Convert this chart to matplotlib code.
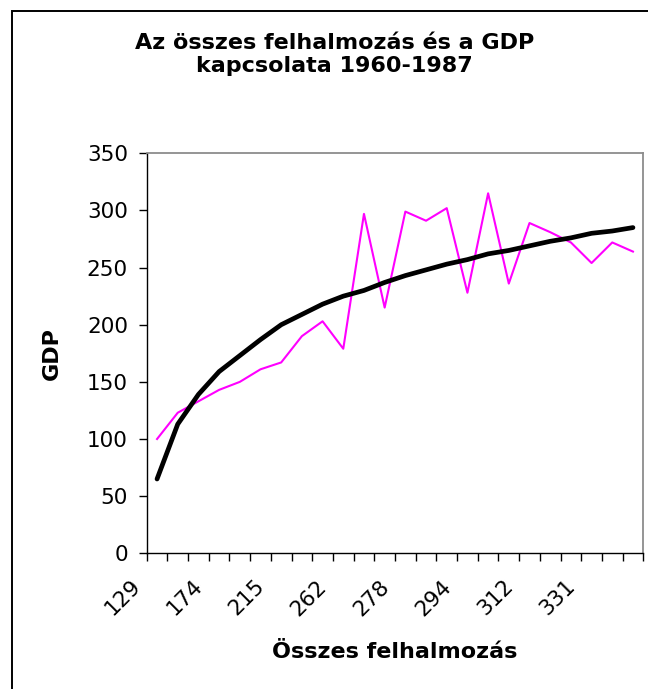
import numpy as np
import matplotlib
matplotlib.use("Agg")
import matplotlib.pyplot as plt
from matplotlib.transforms import ScaledTranslation
from matplotlib.patches import Rectangle

# ---- data ----
gdp = [100, 123, 133, 143, 150, 161, 167, 190, 203, 179, 297, 215,
       299, 291, 302, 228, 315, 236, 289, 281, 272, 254, 272, 264]
trend = [65, 113, 139, 159, 173, 187, 200, 209, 218, 225, 230, 237,
         243, 248, 253, 257, 262, 265, 269, 273, 276, 280, 282, 285]
tick_labels = ["129", "174", "215", "262", "278", "294", "312", "331"]
label_step = 3
y_ticks = [0, 50, 100, 150, 200, 250, 300, 350]

title = "Az összes felhalmozás és a GDP\nkapcsolata 1960-1987"
xlabel = "Összes felhalmozás"
ylabel = "GDP"

plt.rcParams['font.family'] = ['DejaVu Sans']

W, H = 648, 689
fig = plt.figure(figsize=(W / 100, H / 100), dpi=100)
fig.patch.set_facecolor('white')

# chart-area border (cropped at right/bottom in the reference)
fig.patches.append(Rectangle((11.5 / W, -0.5), 2.0, 1.5 - 11 / H,
                             transform=fig.transFigure, fill=False,
                             edgecolor='black', linewidth=1.4, clip_on=False))

L, R, T, B = 146.7, 643.3, 153.3, 553.3
ax = fig.add_axes([L / W, 1 - B / H, (R - L) / W, (B - T) / H])

n = len(gdp)
x = np.arange(n)
ax.plot(x, gdp, color='#FF00FF', lw=1.5, zorder=3)
ax.plot(x, trend, color='black', lw=3.4, solid_capstyle='round', zorder=4)

ax.set_xlim(-0.5, n - 0.5)
ax.set_ylim(y_ticks[0], y_ticks[-1])

# spines
for s in ('left', 'bottom'):
    ax.spines[s].set_color('black')
    ax.spines[s].set_linewidth(1.0)
for s in ('top', 'right'):
    ax.spines[s].set_color('#8c8c8c')
    ax.spines[s].set_linewidth(1.3)

# y ticks
ax.set_yticks(y_ticks)
ax.set_yticklabels([str(v) for v in y_ticks])
ax.tick_params(axis='y', direction='out', length=6, width=1, color='black',
               labelsize=15.5, pad=7.5)

# x ticks: marks at category boundaries, labels at every 3rd category
ax.set_xticks(np.arange(-0.5, n, 1.0))
ax.set_xticklabels([])
ax.tick_params(axis='x', which='major', direction='out', length=5.5,
               width=1, color='black')
label_pos = np.arange(0, label_step * len(tick_labels), label_step)
ax.set_xticks(label_pos, minor=True)
ax.set_xticklabels(tick_labels, minor=True)
ax.tick_params(axis='x', which='minor', length=0, pad=21.5, labelsize=15.5)
off = ScaledTranslation(-0.195, 0, fig.dpi_scale_trans)
for lbl in ax.get_xticklabels(minor=True):
    lbl.set_rotation(45)
    lbl.set_ha('right')
    lbl.set_va('center')
    lbl.set_rotation_mode('anchor')
    lbl.set_transform(lbl.get_transform() + off)

# axis titles
ax.set_ylabel(ylabel, fontsize=16, fontweight='bold', va='center')
ax.yaxis.set_label_coords((51.5 - L) / (R - L), 0.5)
ax.set_xlabel(xlabel, fontsize=16, fontweight='bold', va='baseline')
ax.xaxis.set_label_coords(0.5, (B - 658) / (B - T))

# chart title (baseline of the last line at y = 71.7 px)
fig.text(334.5 / W, 1 - 71.7 / H, title, ha='center', va='baseline',
         fontsize=16, fontweight='bold', linespacing=1.15,
         multialignment='center')

fig.savefig("out.png", dpi=100, facecolor='white')
